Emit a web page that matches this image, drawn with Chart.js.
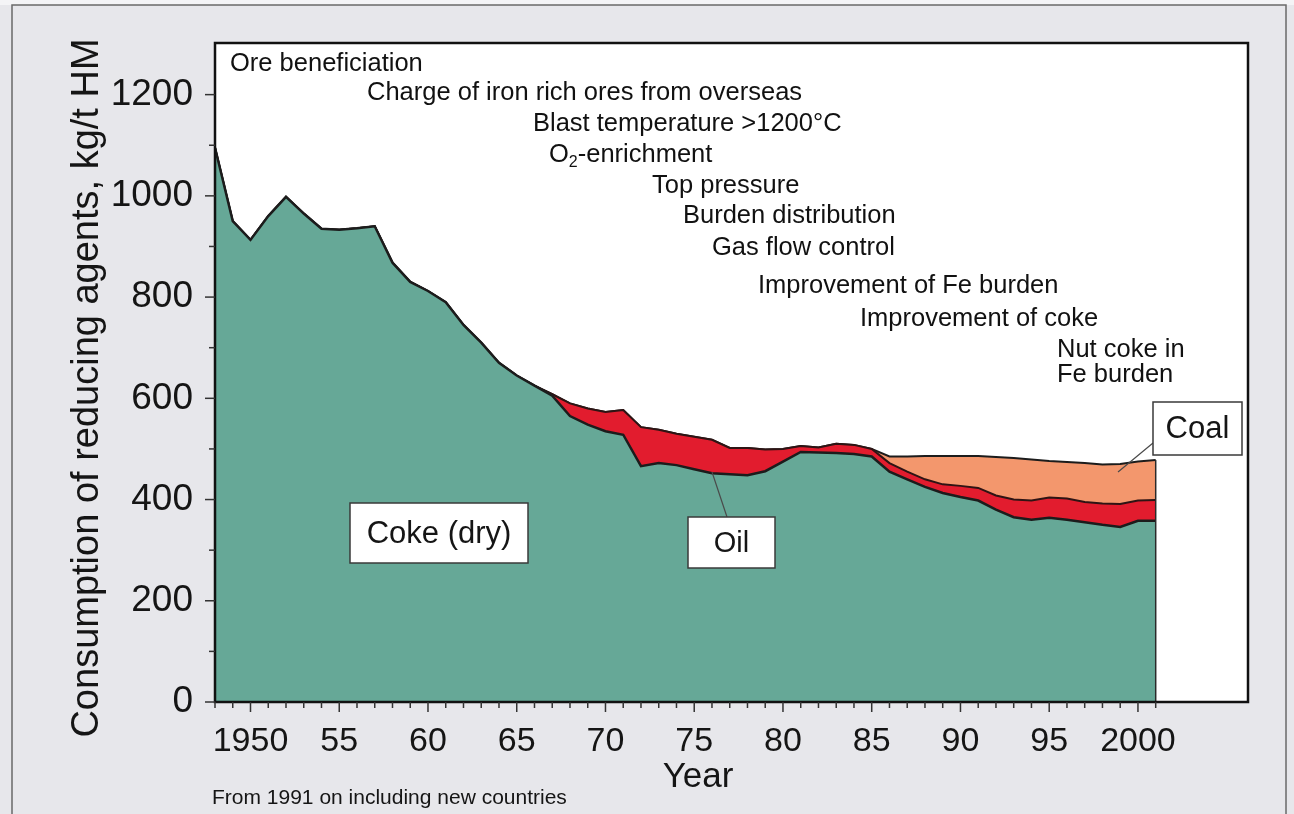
<!DOCTYPE html>
<html>
<head>
<meta charset="utf-8">
<title>Consumption of reducing agents</title>
<script src="https://cdn.jsdelivr.net/npm/chart.js@4.4.1/dist/chart.umd.min.js"></script>
<style>
  html, body { margin: 0; padding: 0; background: #e7e7eb; }
  #wrap { width: 1294px; height: 814px; position: relative; }
</style>
</head>
<body>
<div id="wrap"><canvas id="reducingChart" width="1294" height="814"></canvas></div>
<script>
// data (kg/t HM)
const years = [1948, 1949, 1950, 1951, 1952, 1953, 1954, 1955, 1956, 1957,
               1958, 1959, 1960, 1961, 1962, 1963, 1964, 1965, 1966, 1967,
               1968, 1969, 1970, 1971, 1972, 1973, 1974, 1975, 1976, 1977,
               1978, 1979, 1980, 1981, 1982, 1983, 1984, 1985, 1986, 1987,
               1988, 1989, 1990, 1991, 1992, 1993, 1994, 1995, 1996, 1997,
               1998, 1999, 2000, 2001];
const coke = [1095, 950, 913, 960, 998, 965, 935, 933, 936, 940,
              868, 830, 812, 790, 745, 710, 670, 645, 625, 605,
              565, 548, 535, 528, 466, 472, 468, 460, 452, 450,
              448, 456, 475, 494, 493, 492, 490, 485, 455, 440,
              425, 413, 405, 398, 380, 365, 360, 364, 360, 355,
              350, 346, 358, 358];
const oil = [0, 0, 0, 0, 0, 0, 0, 0, 0, 0,
             0, 0, 0, 0, 0, 0, 0, 0, 0, 3,
             25, 32, 38, 49, 77, 66, 62, 64, 66, 52,
             54, 43, 25, 12, 10, 18, 18, 15, 17, 15,
             15, 17, 22, 25, 28, 35, 38, 40, 42, 40,
             42, 45, 40, 41];
const coal = [0, 0, 0, 0, 0, 0, 0, 0, 0, 0,
              0, 0, 0, 0, 0, 0, 0, 0, 0, 0,
              0, 0, 0, 0, 0, 0, 0, 0, 0, 0,
              0, 0, 0, 0, 0, 0, 0, 0, 13, 30,
              46, 56, 59, 63, 76, 82, 81, 72, 72, 77,
              77, 79, 77, 79];
const xTickYears = [1950, 1955, 1960, 1965, 1970, 1975, 1980, 1985, 1990, 1995, 2000];
const yTickValues = [0, 200, 400, 600, 800, 1000, 1200];

const milestones = [
    'Ore beneficiation',
    'Charge of iron rich ores from overseas',
    'Blast temperature >1200°C',
    'O2-enrichment',
    'Top pressure',
    'Burden distribution',
    'Gas flow control',
    'Improvement of Fe burden',
    'Improvement of coke',
    'Nut coke in',
    'Fe burden'
];
// where each milestone text sits (pixels)
const milestonePos = [[230, 64], [367, 93], [533, 124], [549, 155], [652, 186], [683, 216],
                      [712, 248], [758, 286], [860, 319], [1057, 350], [1057, 375]];

const FONT = '"Liberation Sans", Arial, Helvetica, sans-serif';

function pts(arr) {
    return years.map((y, i) => ({x: y, y: arr[i]}));
}

function textBox(ctx, label, x, y, w, h, size) {
    ctx.save();
    ctx.fillStyle = '#ffffff';
    ctx.fillRect(x, y, w, h);
    ctx.strokeStyle = '#3a3a3a';
    ctx.lineWidth = 1.5;
    ctx.strokeRect(x, y, w, h);
    ctx.fillStyle = '#151515';
    ctx.font = size + 'px ' + FONT;
    ctx.textAlign = 'center';
    ctx.textBaseline = 'middle';
    ctx.fillText(label, x + w / 2, y + h / 2 + 1);
    ctx.restore();
}

const decorPlugin = {
    id: 'decor',
    beforeDraw(chart) {
        const ctx = chart.ctx;
        const a = chart.chartArea;
        ctx.save();
        ctx.fillStyle = '#e7e7eb';
        ctx.fillRect(0, 0, chart.width, chart.height);
        ctx.fillStyle = '#f4f4f6';
        ctx.fillRect(0, 0, chart.width, 5);
        // outer frame of the figure
        ctx.strokeStyle = '#6a6a6a';
        ctx.lineWidth = 1.5;
        ctx.strokeRect(12, 5, 1274, 820);
        // plot area
        ctx.fillStyle = '#ffffff';
        ctx.fillRect(a.left, a.top, a.right - a.left, a.bottom - a.top);
        ctx.restore();
    },
    afterDatasetsDraw(chart) {
        const ctx = chart.ctx;
        const a = chart.chartArea;
        const xs = chart.scales.x;
        const ys = chart.scales.y;

        ctx.save();
        // right edge of the data
        const last = years.length - 1;
        const xe = xs.getPixelForValue(years[last]);
        ctx.strokeStyle = '#2a2a2a';
        ctx.lineWidth = 1.5;
        ctx.beginPath();
        ctx.moveTo(xe, ys.getPixelForValue(coke[last] + oil[last] + coal[last]));
        ctx.lineTo(xe, a.bottom);
        ctx.stroke();

        // plot frame
        ctx.strokeStyle = '#111111';
        ctx.lineWidth = 2.5;
        ctx.strokeRect(a.left, a.top, a.right - a.left, a.bottom - a.top);

        // tick marks
        ctx.lineWidth = 1.5;
        ctx.strokeStyle = '#333333';
        for (let yr = 1948; yr <= 2001; yr++) {
            const px = xs.getPixelForValue(yr);
            const len = yr % 5 === 0 ? 10 : 6;
            ctx.beginPath();
            ctx.moveTo(px, a.bottom);
            ctx.lineTo(px, a.bottom + len);
            ctx.stroke();
        }
        for (let v = 0; v <= 1200; v += 100) {
            const py = ys.getPixelForValue(v);
            const len = v % 200 === 0 ? 10 : 6;
            ctx.beginPath();
            ctx.moveTo(a.left, py);
            ctx.lineTo(a.left - len, py);
            ctx.stroke();
        }

        // milestone texts
        ctx.fillStyle = '#111111';
        ctx.textBaseline = 'middle';
        ctx.textAlign = 'left';
        const big = '25.5px ' + FONT;
        milestones.forEach((t, i) => {
            const [mx, my] = milestonePos[i];
            if (t.startsWith('O2')) {
                ctx.font = big;
                ctx.fillText('O', mx, my);
                const w = ctx.measureText('O').width;
                ctx.font = '16px ' + FONT;
                ctx.fillText('2', mx + w, my + 8);
                const w2 = ctx.measureText('2').width;
                ctx.font = big;
                ctx.fillText(t.slice(2), mx + w + w2, my);
            } else {
                ctx.font = big;
                ctx.fillText(t, mx, my);
            }
        });

        // leader lines
        ctx.strokeStyle = '#4a4a4a';
        ctx.lineWidth = 1.2;
        ctx.beginPath();
        ctx.moveTo(727, 517);
        ctx.lineTo(712, 472);
        ctx.moveTo(1153, 443);
        ctx.lineTo(1118, 472);
        ctx.stroke();
        ctx.restore();

        textBox(ctx, 'Coke (dry)', 350, 503, 178, 60, 31);
        textBox(ctx, 'Oil', 688, 517, 87, 51, 29);
        textBox(ctx, 'Coal', 1153, 402, 89, 53, 31);
    },
    afterDraw(chart) {
        const ctx = chart.ctx;
        ctx.save();
        ctx.fillStyle = '#151515';
        ctx.font = '38px ' + FONT;
        ctx.textAlign = 'center';
        ctx.textBaseline = 'middle';
        ctx.translate(88, 388);
        ctx.rotate(-Math.PI / 2);
        ctx.fillText('Consumption of reducing agents, kg/t HM', 0, 0);
        ctx.restore();

        ctx.save();
        ctx.fillStyle = '#151515';
        ctx.font = '35px ' + FONT;
        ctx.textAlign = 'center';
        ctx.textBaseline = 'middle';
        ctx.fillText('Year', 698, 777);
        ctx.font = '21px ' + FONT;
        ctx.textAlign = 'left';
        ctx.fillText('From 1991 on including new countries', 212, 798);
        ctx.restore();
    }
};

const ctx = document.getElementById('reducingChart').getContext('2d');
const reducingChart = new Chart(ctx, {
    type: 'line',
    data: {
        datasets: [{
            label: 'Coke (dry)',
            data: pts(coke),
            backgroundColor: '#66a897',
            borderColor: '#1c1c1c',
            borderWidth: 2.5,
            fill: 'origin'
        }, {
            label: 'Oil',
            data: pts(oil),
            backgroundColor: '#e21c2e',
            borderColor: '#2e1414',
            borderWidth: 2,
            fill: '-1'
        }, {
            label: 'Coal',
            data: pts(coal),
            backgroundColor: '#f3976d',
            borderColor: '#1c1c1c',
            borderWidth: 2,
            fill: '-1'
        }]
    },
    options: {
        responsive: false,
        animation: false,
        devicePixelRatio: 1,
        layout: { padding: { left: 0, top: 43, right: 46, bottom: 0 } },
        elements: { point: { radius: 0 }, line: { tension: 0 } },
        plugins: { legend: { display: false }, tooltip: { enabled: false } },
        scales: {
            x: {
                type: 'linear',
                min: 1948,
                max: 2006.2,
                grid: { display: false },
                border: { display: false },
                afterBuildTicks: s => { s.ticks = xTickYears.map(v => ({value: v})); },
                afterFit: s => { s.height = 112; },
                ticks: {
                    padding: 11,
                    color: '#151515',
                    font: { family: FONT, size: 34 },
                    maxRotation: 0,
                    autoSkip: false,
                    callback: v => (v === 1950 || v === 2000) ? String(v) : String(v).slice(2)
                }
            },
            y: {
                stacked: true,
                min: 0,
                max: 1302,
                grid: { display: false },
                border: { display: false },
                afterBuildTicks: s => { s.ticks = yTickValues.map(v => ({value: v})); },
                afterFit: s => { s.width = 215; },
                ticks: {
                    padding: 14,
                    color: '#151515',
                    font: { family: FONT, size: 37 },
                    callback: v => String(v)
                }
            }
        }
    },
    plugins: [decorPlugin]
});
</script>
</body>
</html>
